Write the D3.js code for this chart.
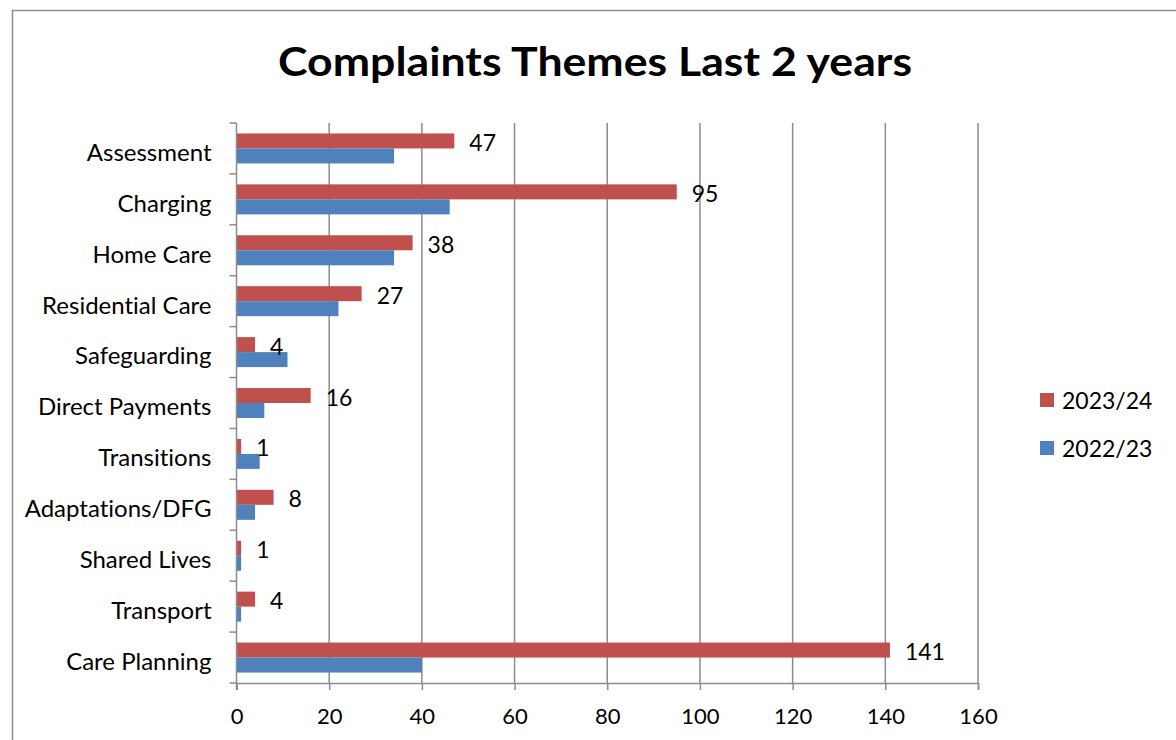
<!DOCTYPE html>
<html>
<head>
<meta charset="utf-8">
<script src="https://cdn.jsdelivr.net/npm/d3@7"></script>
<style>
  html, body { margin: 0; padding: 0; background: #fff; }
  svg { display: block; }
  text { font-family: Lato, "Open Sans", sans-serif; fill: #000; font-variant-ligatures: none; font-feature-settings: "liga" 0, "dlig" 0; }
</style>
</head>
<body>
<svg id="chart" width="1176" height="740"></svg>
<script>
// Complaint themes, top to bottom
const categories = ["Assessment", "Charging", "Home Care", "Residential Care", "Safeguarding",
  "Direct Payments", "Transitions", "Adaptations/DFG", "Shared Lives", "Transport", "Care Planning"];
const values2324 = [47, 95, 38, 27, 4, 16, 1, 8, 1, 4, 141];
const values2223 = [34, 46, 34, 22, 11, 6, 5, 4, 1, 1, 40];
const seriesNames = ["2023/24", "2022/23"];
const seriesColors = ["#C0504D", "#4F81BD"];
const xTicks = [0, 20, 40, 60, 80, 100, 120, 140, 160];
const title = "Complaints Themes Last 2 years";

const svg = d3.select("#chart");
const plot = { left: 236.5, right: 978, top: 123, bottom: 683 };

// Outer chart frame (left and top edges)
svg.append("path")
  .attr("d", "M12.5,740 L12.5,10.5 L1176,10.5")
  .attr("fill", "none").attr("stroke", "#8c8c8c").attr("stroke-width", 1.5);

svg.append("text")
  .attr("x", 595).attr("y", 76)
  .attr("text-anchor", "middle")
  .attr("font-weight", "bold").attr("font-size", 40)
  .attr("textLength", 634).attr("lengthAdjust", "spacingAndGlyphs")
  .text(title);

const x = d3.scaleLinear().domain([0, 160]).range([plot.left, plot.right]);
const y = d3.scaleBand().domain(categories).range([plot.top, plot.bottom]);
const barH = 15;

// Vertical gridlines
svg.append("g").selectAll("line").data(xTicks.slice(1)).join("line")
  .attr("x1", d => x(d)).attr("x2", d => x(d))
  .attr("y1", plot.top).attr("y2", plot.bottom)
  .attr("stroke", "#8c8c8c").attr("stroke-width", 1.5);

// Bars
const series = [values2324, values2223];
series.forEach((vals, si) => {
  svg.append("g").selectAll("rect").data(categories).join("rect")
    .attr("x", x(0))
    .attr("y", d => y(d) + y.bandwidth() / 2 - barH + si * barH)
    .attr("width", (d, i) => x(vals[i]) - x(0))
    .attr("height", barH)
    .attr("fill", seriesColors[si]);
});

// Value labels for 2023/24
svg.append("g").selectAll("text").data(categories).join("text")
  .attr("x", (d, i) => x(values2324[i]) + 15)
  .attr("y", d => y(d) + y.bandwidth() / 2 - barH / 2 + 2)
  .attr("dy", "0.35em")
  .attr("font-size", 23)
  .text((d, i) => values2324[i]);

// Axes
const xAxis = svg.append("g")
  .attr("transform", `translate(0,${plot.bottom})`)
  .call(d3.axisBottom(x).tickValues(xTicks).tickSize(7).tickPadding(18).tickFormat(d3.format("d")));
xAxis.select(".domain").attr("stroke", "#8c8c8c").attr("stroke-width", 1.5);
xAxis.selectAll(".tick line").attr("stroke", "#8c8c8c").attr("stroke-width", 1.5);
xAxis.selectAll(".tick text").attr("font-size", 22).attr("font-family", "Lato, sans-serif");

// Category axis with ticks at band boundaries
const yAxis = svg.append("g").attr("transform", `translate(${plot.left},0)`);
yAxis.append("line")
  .attr("x1", 0).attr("x2", 0).attr("y1", plot.top).attr("y2", plot.bottom + 7)
  .attr("stroke", "#8c8c8c").attr("stroke-width", 1.5);
const bounds = categories.map(c => y(c)).concat([plot.bottom]);
yAxis.selectAll("line.tk").data(bounds).join("line").attr("class", "tk")
  .attr("x1", -7).attr("x2", 0).attr("y1", d => d).attr("y2", d => d)
  .attr("stroke", "#8c8c8c").attr("stroke-width", 1.5);
yAxis.selectAll("text").data(categories).join("text")
  .attr("x", -25)
  .attr("y", d => y(d) + y.bandwidth() / 2 + 4)
  .attr("dy", "0.35em")
  .attr("text-anchor", "end")
  .attr("font-size", 24)
  .text(d => d);

// Legend
const legend = svg.append("g").attr("transform", "translate(1040,400)");
seriesNames.forEach((name, i) => {
  const g = legend.append("g").attr("transform", `translate(0,${i * 48})`);
  g.append("rect").attr("x", 0).attr("y", -7).attr("width", 14).attr("height", 14).attr("fill", seriesColors[i]);
  g.append("text").attr("x", 22).attr("y", 1).attr("dy", "0.35em").attr("font-size", 23).text(name);
});
</script>
</body>
</html>
